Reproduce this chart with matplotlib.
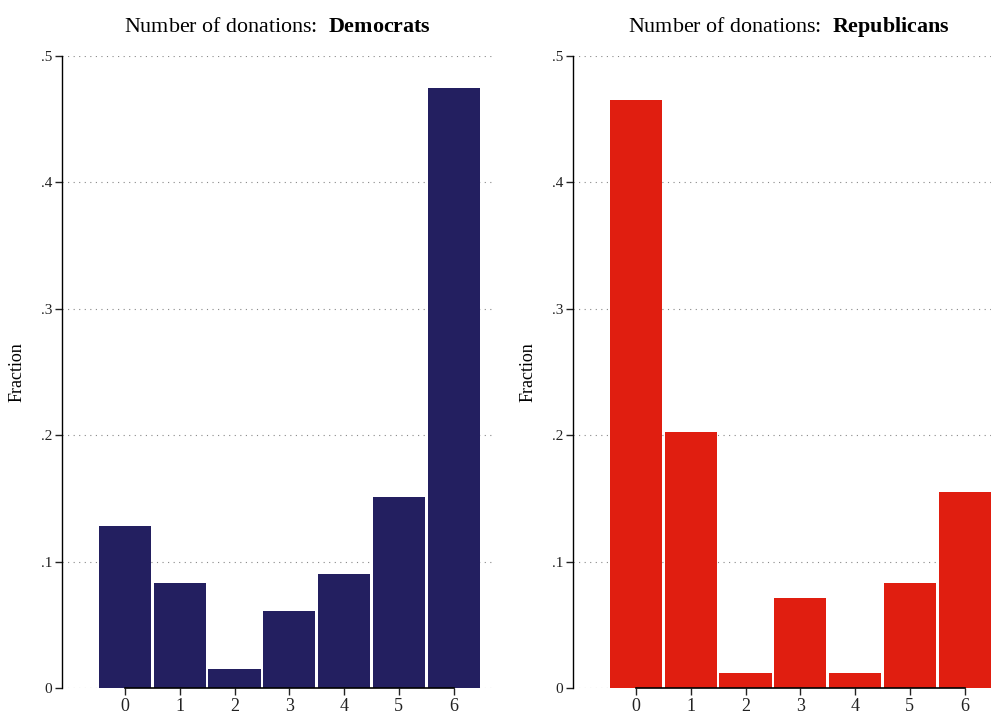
import matplotlib
matplotlib.use("Agg")
import matplotlib.pyplot as plt

categories = [0, 1, 2, 3, 4, 5, 6]
dem_values = [0.128, 0.083, 0.015, 0.061, 0.090, 0.151, 0.475]
rep_values = [0.465, 0.2025, 0.012, 0.071, 0.012, 0.083, 0.155]
yticks = [0, 0.1, 0.2, 0.3, 0.4, 0.5]
ytick_labels = ["0", ".1", ".2", ".3", ".4", ".5"]

plt.rcParams["font.family"] = ["Liberation Serif", "DejaVu Serif"]
plt.rcParams["mathtext.fontset"] = "custom"
plt.rcParams["mathtext.rm"] = "Liberation Serif"
plt.rcParams["mathtext.bf"] = "Liberation Serif:bold"

W, H = 991, 713
fig = plt.figure(figsize=(W / 100, H / 100), dpi=100)

def make_panel(left_px, values, color, party):
    ax = fig.add_axes([left_px / W, (H - 688) / H, 431 / W, 632 / H])
    ax.bar(categories, values, width=0.95, color=color, linewidth=0, zorder=2)
    ax.set_xlim(-1.15, 6.72)
    ax.set_ylim(0, 0.5)
    ax.set_yticks(yticks)
    ax.set_yticklabels(ytick_labels)
    ax.set_xticks(categories)
    ax.set_xticklabels([str(c) for c in categories])
    for s in ["top", "right"]:
        ax.spines[s].set_visible(False)
    ax.spines["left"].set_bounds(0, 0.5)
    ax.spines["bottom"].set_bounds(0, 6)
    ax.spines["left"].set_linewidth(1.0)
    ax.spines["bottom"].set_linewidth(1.2)
    ax.spines["bottom"].set_zorder(3)
    ax.tick_params(axis="both", direction="out", length=5, width=1.0,
                   colors="#222222")
    ax.tick_params(axis="x", pad=2, labelsize=13)
    ax.tick_params(axis="y", pad=2, labelsize=11)
    ax.yaxis.grid(True, linestyle=(0, (1, 4)), color="#888888", linewidth=0.8, zorder=0)
    ax.set_axisbelow(True)
    ax.set_ylabel("Fraction", fontsize=13, labelpad=11)
    ax.set_title(r"Number of donations:  $\mathbf{" + party + "}$",
                 fontsize=15.8, pad=17)
    return ax

make_panel(62, dem_values, "#231f60", "Democrats")
make_panel(573, rep_values, "#e01e10", "Republicans")

fig.savefig("out.png", dpi=100)
